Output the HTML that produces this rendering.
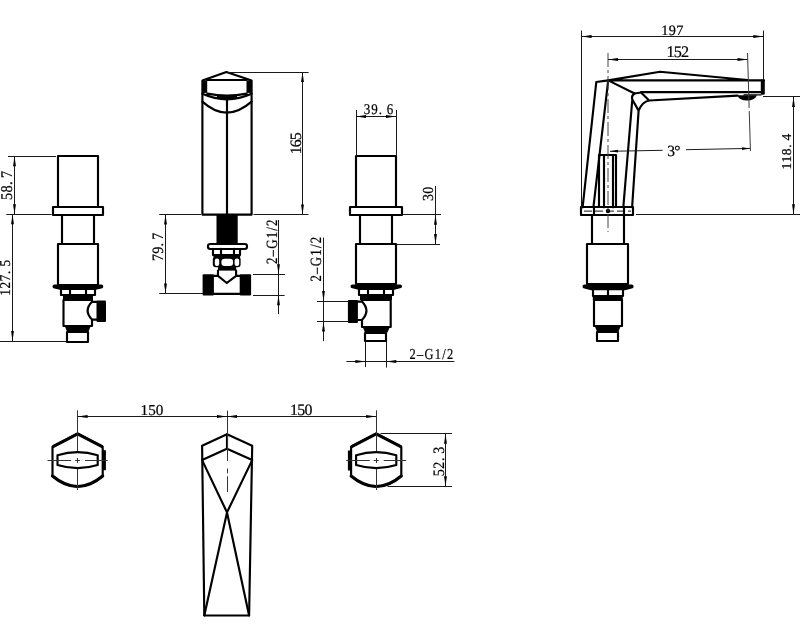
<!DOCTYPE html>
<html><head><meta charset="utf-8"><style>
html,body{margin:0;padding:0;background:#fff;width:800px;height:630px;overflow:hidden}
svg{display:block;will-change:transform}
.o{fill:none;stroke:#000;stroke-width:2.15;stroke-linejoin:round;stroke-linecap:round}
.f{fill:#000;stroke:none}
.d{stroke:#1a1a1a;stroke-width:1;fill:none}
.c{stroke:#444;stroke-width:1;fill:none;stroke-dasharray:14 3 3 3}
.a{fill:#000;stroke:none}
.c2{stroke:#333;stroke-width:1;fill:none}
text{text-rendering:geometricPrecision}
.ts{font-family:"Liberation Sans",sans-serif;fill:#000}
.tr,.trv{font-family:"Liberation Serif",serif;fill:#000;stroke:#000;stroke-width:0.22}
</style></head><body>
<svg width="800" height="630" viewBox="0 0 800 630">
<rect class="o" x="58" y="156" width="40" height="51"/>
<rect class="o" x="53" y="207" width="50" height="8"/>
<rect class="o" x="62" y="215" width="32" height="29"/>
<rect class="o" x="58" y="244" width="40" height="41"/>
<path class="f" d="M54.4,284.6 H101.39999999999999 A1.9,1.9 0 0 1 101.39999999999999,288.40000000000003 L94.8,290 H61.0 L54.4,288.40000000000003 A1.9,1.9 0 0 1 54.4,284.6 Z"/>
<rect class="o" x="61" y="289" width="34" height="6"/>
<line class="o" x1="70" y1="289.0" x2="70" y2="295.4"/><line class="o" x1="86" y1="289.0" x2="86" y2="295.4"/>
<rect class="f" x="63" y="295" width="30" height="5"/>
<path class="o" d="M92,301.8 V300 H63.5 V326 H92 V319.6 M92,301.8 Q83.3,310.7 92,319.6 M92,301.8 H97 M92,319.6 H97"/>
<rect class="f" x="96.5" y="300.5" width="9.5" height="21.5" rx="1"/>
<path class="f" d="M64.5,325.5 H91 L88.5,331.5 H67.0 Z"/>
<rect class="o" x="67" y="332" width="21" height="10"/>
<line class="d" x1="8" y1="156.5" x2="56" y2="156.5"/><line class="d" x1="6.3" y1="214.5" x2="51.6" y2="214.5"/><line class="d" x1="0" y1="341.5" x2="66" y2="341.5"/>
<line class="d" x1="14.5" y1="156.3" x2="14.5" y2="214.3"/><polygon class="a" points="14.50,156.30 15.95,166.30 13.05,166.30"/><polygon class="a" points="14.50,214.30 13.05,204.30 15.95,204.30"/>
<line class="d" x1="12.5" y1="214.3" x2="12.5" y2="341"/><polygon class="a" points="12.50,214.30 13.95,224.30 11.05,224.30"/><polygon class="a" points="12.50,341.00 11.05,331.00 13.95,331.00"/>
<text class="tr" transform="translate(11.90,199.90) rotate(-90) scale(0.88,1)" font-size="16.27" textLength="32.94" lengthAdjust="spacing">58. 7</text>
<text class="tr" transform="translate(10.30,295.70) rotate(-90) scale(0.88,1)" font-size="15.00" textLength="40.57" lengthAdjust="spacing">127. 5</text>
<path class="o" d="M202.4,214.6 V80.4 L226.4,72 L251.6,80.4 V214.6 Z"/>
<line class="o" x1="207.0" y1="80" x2="246.5" y2="80"/>
<rect class="f" x="202.4" y="80.4" width="4.8" height="12.5"/>
<rect class="f" x="246.5" y="80.4" width="5.1" height="12.5"/>
<path class="o" d="M207.4,93.6 Q227,97.4 246.6,93.6 M202.4,93.8 Q227,104.8 251.6,93.8"/>
<path class="f" d="M217,95 Q227,96 237,95 L237,98.6 Q227,100.2 217,98.6 Z"/>
<path class="o" d="M202.4,101.6 Q226.5,123.6 251.6,101.6"/>
<line class="o" x1="227" y1="100.0" x2="227" y2="214.6"/>
<rect class="f" x="216.5" y="214.6" width="21.2" height="29.2"/>
<rect class="o" x="208" y="244" width="39" height="5" rx="2.2"/>
<rect class="o" x="213" y="249" width="27" height="6"/>
<line class="o" x1="221" y1="248.9" x2="221" y2="255.1"/><line class="o" x1="234" y1="248.9" x2="234" y2="255.1"/>
<rect class="f" x="213.4" y="255" width="26.8" height="2.4"/>
<rect class="f" x="212.8" y="256.6" width="27.8" height="10.6" rx="3"/>
<rect fill="#fff" x="214.8" y="258.6" width="4.4" height="7.3" rx="2"/>
<rect fill="#fff" x="221.4" y="258.8" width="11.7" height="7.1" rx="3.2"/>
<rect fill="#fff" x="234.6" y="258.6" width="4.6" height="7.3" rx="2"/>
<rect class="f" x="218" y="266.5" width="18.1" height="4.1"/>
<path class="o" d="M218,270.6 V275.8 L226.8,283 L236.1,275.8 V270.6 M213.9,275.8 H218 M236.1,275.8 H239.7 M213.9,293.8 H239.7"/>
<rect class="f" x="202.6" y="274.2" width="11.3" height="21.2" rx="1"/>
<rect class="f" x="239.7" y="274.2" width="11.4" height="21.2" rx="1"/>
<line class="d" x1="228" y1="72.5" x2="308.6" y2="72.5"/>
<line class="d" x1="159.2" y1="214.5" x2="201" y2="214.5"/><line class="d" x1="253.5" y1="214.5" x2="308.5" y2="214.5"/>
<line class="d" x1="159.2" y1="293.5" x2="203" y2="293.5"/>
<line class="d" x1="302.5" y1="72" x2="302.5" y2="214.4"/><polygon class="a" points="302.50,72.00 303.95,82.00 301.05,82.00"/><polygon class="a" points="302.50,214.40 301.05,204.40 303.95,204.40"/>
<line class="d" x1="165.5" y1="214.5" x2="165.5" y2="293.5"/><polygon class="a" points="165.50,214.50 166.95,224.50 164.05,224.50"/><polygon class="a" points="165.50,293.50 164.05,283.50 166.95,283.50"/>
<text class="tr" transform="translate(300.60,154.20) rotate(-90) scale(1.0,1)" font-size="15.87" textLength="21.82" lengthAdjust="spacing">165</text>
<text class="tr" transform="translate(162.60,261.00) rotate(-90) scale(0.88,1)" font-size="15.87" textLength="32.15" lengthAdjust="spacing">79. 7</text>
<line class="d" x1="253" y1="274.5" x2="285" y2="274.5"/><line class="d" x1="253" y1="295.5" x2="284.6" y2="295.5"/>
<line class="d" x1="278.5" y1="220" x2="278.5" y2="314.1"/>
<polygon class="a" points="278.50,274.20 277.05,264.20 279.95,264.20"/><polygon class="a" points="278.50,295.30 279.95,305.30 277.05,305.30"/>
<text class="tr" transform="translate(276.60,264.00) rotate(-90) scale(0.82,1)" font-size="15.70" textLength="54.29" lengthAdjust="spacing">2–G1/2</text>
<rect class="o" x="356" y="156" width="40" height="51"/>
<rect class="o" x="350" y="207" width="52" height="8"/>
<rect class="o" x="360" y="215" width="32" height="29"/>
<rect class="o" x="356" y="244" width="40" height="40"/>
<path class="f" d="M352.4,284.4 H400.1 A1.9,1.9 0 0 1 400.1,288.2 L393.5,290 H359.0 L352.4,288.2 A1.9,1.9 0 0 1 352.4,284.4 Z"/>
<rect class="o" x="359" y="289" width="34" height="6"/>
<line class="o" x1="368" y1="288.8" x2="368" y2="295.0"/><line class="o" x1="384" y1="288.8" x2="384" y2="295.0"/>
<rect class="f" x="360" y="295" width="32" height="5"/>
<path class="o" d="M362,301.6 V300 H390.7 V327 H362 V320 M362,301.6 Q370.8,310.8 362,320 M362,301.6 H357.5 M362,320 H357.5"/>
<rect class="f" x="347.9" y="300" width="10" height="22.9" rx="1"/>
<path class="f" d="M362.5,326.5 H390 L387.5,332.5 H365.0 Z"/>
<rect class="o" x="365" y="333" width="21" height="8"/>
<line class="d" x1="356.5" y1="110" x2="356.5" y2="156"/><line class="d" x1="396.5" y1="110" x2="396.5" y2="156"/>
<line class="d" x1="356" y1="116.5" x2="396" y2="116.5"/><polygon class="a" points="356.00,116.50 366.00,115.05 366.00,117.95"/><polygon class="a" points="396.00,116.50 386.00,117.95 386.00,115.05"/>
<text class="tr" transform="translate(363.70,113.75) scale(0.88,1)" font-size="14.81" textLength="33.66" lengthAdjust="spacing">39. 6</text>
<line class="d" x1="403" y1="214.5" x2="441" y2="214.5"/><line class="d" x1="396.5" y1="244.5" x2="440" y2="244.5"/>
<line class="d" x1="435.5" y1="186" x2="435.5" y2="244"/>
<polygon class="a" points="435.50,214.80 436.95,224.80 434.05,224.80"/><polygon class="a" points="435.50,244.00 434.05,234.00 436.95,234.00"/>
<text class="tr" transform="translate(432.80,201.00) rotate(-90) scale(0.92,1)" font-size="15.29" textLength="15.60" lengthAdjust="spacing">30</text>
<line class="d" x1="317" y1="301.5" x2="348.5" y2="301.5"/><line class="d" x1="317" y1="321.5" x2="348.5" y2="321.5"/>
<line class="d" x1="323.5" y1="237.6" x2="323.5" y2="341.1"/>
<polygon class="a" points="323.50,301.10 322.05,291.10 324.95,291.10"/><polygon class="a" points="323.50,321.50 324.95,331.50 322.05,331.50"/>
<text class="tr" transform="translate(321.20,281.50) rotate(-90) scale(0.82,1)" font-size="15.70" textLength="54.41" lengthAdjust="spacing">2–G1/2</text>
<line class="d" x1="365.5" y1="341" x2="365.5" y2="367"/><line class="d" x1="386.5" y1="341" x2="386.5" y2="367.5"/>
<line class="d" x1="346.4" y1="361.5" x2="454.4" y2="361.5"/>
<polygon class="a" points="365.40,361.50 355.40,362.95 355.40,360.05"/><polygon class="a" points="386.30,361.50 396.30,360.05 396.30,362.95"/>
<text class="tr" transform="translate(409.60,359.00) scale(0.82,1)" font-size="15.16" textLength="53.33" lengthAdjust="spacing">2–G1/2</text>
<path class="o" d="M582.6,207.3 L596.3,82 L608.2,80.4 L593.4,207.3"/>
<path class="o" d="M608.2,80.4 L660,71.8 L747.5,80 M608.2,80.4 H764 M762,92.1 H641 M608.2,80.4 L634.6,93.5"/>
<path class="o" d="M634.6,93.5 Q631,96 632.3,99.5 L623.3,207.3 M632.3,99.5 L638.6,110.6 L632.1,207.3 M638.6,110.6 Q642,102 649.2,100.5 L737.5,95.6 M641,92.5 L649.2,100.5 M634.6,93.5 L641,92.5"/>
<rect class="f" x="760.8" y="79.4" width="4" height="15.4" rx="1.2"/>
<path class="o" style="stroke-width:1.2" d="M744,94.9 H761"/>
<path class="f" d="M737.2,95.3 H757 Q754.5,100.6 747,100.6 Q739.5,100.6 737.2,95.3 Z"/>
<rect class="o" x="599" y="155" width="17" height="52"/>
<line class="o" x1="604" y1="155.2" x2="604" y2="207.3"/><line class="o" x1="613" y1="155.2" x2="613" y2="207.3"/>
<rect class="o" x="581" y="207" width="52" height="8"/>
<line class="c" x1="584" y1="211.1" x2="631" y2="211.1" style="stroke:#444;stroke-width:1.2;stroke-dasharray:8 3"/>
<line class="o" x1="594" y1="207.3" x2="594" y2="214.9"/><line class="o" x1="624" y1="207.3" x2="624" y2="214.9"/>
<circle class="f" cx="608" cy="211" r="2.2"/>
<rect class="o" x="592" y="215" width="32" height="29"/>
<rect class="o" x="587" y="244" width="41" height="40"/>
<path class="f" d="M584.4,284.6 H631.7 A1.9,1.9 0 0 1 631.7,288.40000000000003 L625.1,290.3 H591.0 L584.4,288.40000000000003 A1.9,1.9 0 0 1 584.4,284.6 Z"/>
<rect class="o" x="593" y="289" width="30" height="7"/>
<line class="o" x1="608" y1="289.0" x2="608" y2="295.5"/>
<rect class="f" x="592.8" y="295.5" width="30" height="4.5"/>
<rect class="o" x="594" y="300" width="28" height="26"/>
<path class="f" d="M594.5,325.5 H621 L618.5,331.5 H597.0 Z"/>
<rect class="o" x="597" y="332" width="21" height="9"/>
<line class="c" x1="608" y1="53" x2="608" y2="232"/>
<line class="c" style="stroke:#3a3a3a;stroke-dasharray:55 3 40 3" x1="747.5" y1="53" x2="750.5" y2="153"/>
<line class="d" x1="581.5" y1="30.5" x2="581.5" y2="210"/><line class="d" x1="763.5" y1="30.5" x2="763.5" y2="80"/>
<line class="d" x1="581.6" y1="36.5" x2="763.3" y2="36.5"/><polygon class="a" points="581.60,36.50 591.60,35.05 591.60,37.95"/><polygon class="a" points="763.30,36.50 753.30,37.95 753.30,35.05"/>
<line class="d" x1="608" y1="59.5" x2="747.5" y2="59.5"/><polygon class="a" points="608.00,59.50 618.00,58.05 618.00,60.95"/><polygon class="a" points="747.50,59.50 737.50,60.95 737.50,58.05"/>
<text class="tr" transform="translate(661.20,34.60) scale(1.0,1)" font-size="14.29" textLength="22.25" lengthAdjust="spacing">197</text>
<text class="tr" transform="translate(666.60,56.80) scale(1.0,1)" font-size="16.18" textLength="22.46" lengthAdjust="spacing">152</text>
<line class="d" x1="763" y1="96.5" x2="800" y2="96.5"/><line class="d" x1="636" y1="214.5" x2="800" y2="214.5"/>
<line class="d" x1="793.5" y1="96.9" x2="793.5" y2="214.3"/><polygon class="a" points="793.50,96.90 794.95,106.90 792.05,106.90"/><polygon class="a" points="793.50,214.30 792.05,204.30 794.95,204.30"/>
<text class="tr" transform="translate(791.40,169.50) rotate(-90) scale(1.0,1)" font-size="13.57" textLength="35.91" lengthAdjust="spacing">118. 4</text>
<line class="d" x1="610" y1="151.3" x2="662.6" y2="150.3"/><line class="d" x1="686" y1="149.7" x2="750" y2="148.4"/>
<polygon class="a" points="610.00,151.30 617.97,149.75 618.02,152.55"/><polygon class="a" points="750.00,148.40 742.03,149.96 741.97,147.16"/>
<text class="tr" transform="translate(667.20,155.50) scale(1.0,1)" font-size="15.52" textLength="13.39" lengthAdjust="spacing">3°</text>
<path class="o" d="M77.6,433.8 L102.69999999999999,446.8 V476 Q77.6,497 52.49999999999999,476 V446.8 Z"/>
<path class="o" style="stroke-width:3.1" d="M53.49999999999999,446.3 L77.6,433.8 L101.69999999999999,446.3 M52.49999999999999,476 Q77.6,497 102.69999999999999,476"/>
<path class="o" d="M57.49999999999999,455.2 Q77.6,449.2 97.69999999999999,455.2 V465 Q77.6,471.2 57.49999999999999,465 Z"/>
<rect class="f" x="103.1" y="450.2" width="2.8" height="20"/>
<line class="c2" x1="77.5" y1="410.3" x2="77.5" y2="451"/>
<line class="c2" x1="77.5" y1="469" x2="77.5" y2="490"/>
<line class="c2" x1="47.599999999999994" y1="460.5" x2="71.1" y2="460.5"/>
<line class="c2" x1="85.1" y1="460.5" x2="107.6" y2="460.5"/>
<line class="c2" x1="75.1" y1="460.5" x2="80.1" y2="460.5"/>
<line class="c2" x1="77.5" y1="458" x2="77.5" y2="463"/>
<path class="o" d="M376.2,433.8 L401.3,446.8 V476 Q376.2,497 351.09999999999997,476 V446.8 Z"/>
<path class="o" style="stroke-width:3.1" d="M352.09999999999997,446.3 L376.2,433.8 L400.3,446.3 M351.09999999999997,476 Q376.2,497 401.3,476"/>
<path class="o" d="M356.09999999999997,455.2 Q376.2,449.2 396.3,455.2 V465 Q376.2,471.2 356.09999999999997,465 Z"/>
<rect class="f" x="347.9" y="450.5" width="2.8" height="20"/>
<line class="c2" x1="376.5" y1="410.3" x2="376.5" y2="451"/>
<line class="c2" x1="376.5" y1="469" x2="376.5" y2="490"/>
<line class="c2" x1="346.2" y1="460.5" x2="369.7" y2="460.5"/>
<line class="c2" x1="383.7" y1="460.5" x2="406.2" y2="460.5"/>
<line class="c2" x1="373.7" y1="460.5" x2="378.7" y2="460.5"/>
<line class="c2" x1="376.5" y1="458" x2="376.5" y2="463"/>
<path class="o" d="M202.1,445.7 L227,434.3 L252.2,445.7 L249.1,615.5 H204.3 Z"/>
<path class="o" d="M202.1,460.1 L227,448.8 L252.2,460.1 M227,434.3 V448.8 M202.1,460.1 L227,512.4 L249.1,615.5 M252.2,460.1 L227,512.4 L204.3,615.5"/>
<line class="c2" x1="227.5" y1="410.6" x2="227.5" y2="461"/><line class="c2" x1="227.5" y1="468.5" x2="227.5" y2="473.3"/><line class="c2" x1="227.5" y1="476.3" x2="227.5" y2="492"/>
<line class="d" x1="77.6" y1="416.5" x2="376.2" y2="416.5"/>
<polygon class="a" points="77.60,416.50 87.60,415.05 87.60,417.95"/><polygon class="a" points="227.00,416.50 217.00,417.95 217.00,415.05"/><polygon class="a" points="227.00,416.50 237.00,415.05 237.00,417.95"/><polygon class="a" points="376.20,416.50 366.20,417.95 366.20,415.05"/>
<text class="tr" transform="translate(140.50,414.50) scale(1.0,1)" font-size="15.16" textLength="22.93" lengthAdjust="spacing">150</text>
<text class="tr" transform="translate(290.00,414.75) scale(1.0,1)" font-size="15.88" textLength="22.41" lengthAdjust="spacing">150</text>
<line class="d" x1="380.5" y1="433.5" x2="451.9" y2="433.5"/><line class="d" x1="387.6" y1="486.5" x2="451.9" y2="486.5"/>
<line class="d" x1="445.5" y1="433.8" x2="445.5" y2="486.2"/><polygon class="a" points="445.50,433.80 446.95,443.80 444.05,443.80"/><polygon class="a" points="445.50,486.20 444.05,476.20 446.95,476.20"/>
<text class="tr" transform="translate(443.70,476.20) rotate(-90) scale(0.88,1)" font-size="15.94" textLength="33.54" lengthAdjust="spacing">52. 3</text>
</svg>
</body></html>
